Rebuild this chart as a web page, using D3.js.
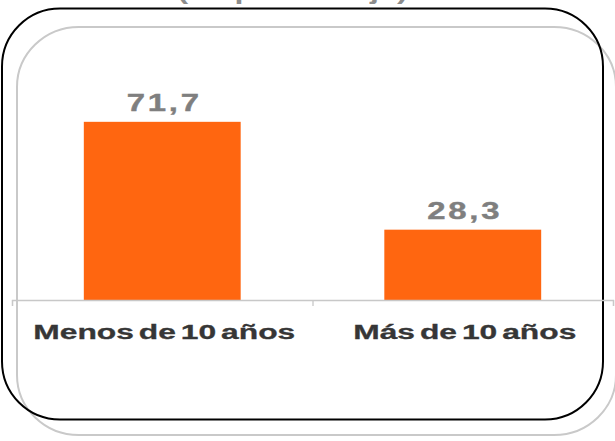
<!DOCTYPE html>
<html>
<head>
<meta charset="utf-8">
<script src="https://cdn.jsdelivr.net/npm/d3@7"></script>
<style>
  html, body { margin: 0; padding: 0; background: #fff; }
  svg { display: block; }
  text { font-family: "Liberation Sans", Arial, sans-serif; font-weight: bold; }
</style>
</head>
<body>
<script>
const categories = ["Menos de 10 años", "Más de 10 años"];
const values = [71.7, 28.3];
const valueLabels = ["71,7", "28,3"];
const titleText = "(en porcentaje)";

const W = 615, H = 441;
const svg = d3.select("body").append("svg").attr("width", W).attr("height", H);
svg.append("rect").attr("width", W).attr("height", H).attr("fill", "#fff");

// title, mostly cut off at the top edge as in the original
svg.append("text")
  .attr("transform", "translate(292.5,-1) scale(1.46,1)")
  .attr("text-anchor", "middle")
  .attr("font-size", 22)
  .attr("fill", "#8c8c8c")
  .text(titleText);

// frames
svg.append("rect")
  .attr("x", 17).attr("y", 27).attr("width", 599).attr("height", 408)
  .attr("rx", 62).attr("ry", 60)
  .attr("fill", "none").attr("stroke", "#c9c9c9").attr("stroke-width", 2);
svg.append("rect")
  .attr("x", 2).attr("y", 8.5).attr("width", 601).attr("height", 411)
  .attr("rx", 58).attr("ry", 58)
  .attr("fill", "none").attr("stroke", "#000").attr("stroke-width", 2);

const x0 = 12, x1 = 613, baseY = 300;
const p = 0.478;
const x = d3.scaleBand().domain(categories).range([x0, x1])
  .paddingInner(p).paddingOuter(p / 2);
const y = d3.scaleLinear().domain([0, 80]).range([baseY, baseY - 80 * 2.485]);

// bars
svg.selectAll("rect.bar").data(values).enter().append("rect")
  .attr("class", "bar")
  .attr("x", (d, i) => x(categories[i]))
  .attr("width", x.bandwidth())
  .attr("y", d => y(d))
  .attr("height", d => y(0) - y(d))
  .attr("fill", "#FF6610");

// axis with boundary ticks
const xEdge = d3.scaleLinear().domain([0, categories.length]).range([x0, x1]);
const axis = svg.append("g").attr("transform", `translate(0,${baseY})`)
  .call(d3.axisBottom(xEdge).ticks(categories.length).tickSize(6).tickSizeOuter(6).tickFormat(""));
axis.selectAll("path, line").attr("stroke", "#c8c8c8").attr("stroke-width", 1.3);

// value labels
svg.selectAll("text.val").data(values).enter().append("text")
  .attr("class", "val")
  .attr("transform", (d, i) => `translate(${x(categories[i]) + x.bandwidth() / 2 + 2},${y(d) - 10.5}) scale(1.4,1)`)
  .attr("text-anchor", "middle")
  .attr("font-size", 23.5)
  .attr("letter-spacing", "2px")
  .attr("stroke", "#7f7f7f").attr("stroke-width", 0.4)
  .attr("fill", "#7f7f7f")
  .text((d, i) => valueLabels[i]);

// category labels
svg.selectAll("text.cat").data(categories).enter().append("text")
  .attr("class", "cat")
  .attr("transform", d => `translate(${x(d) + x.bandwidth() / 2 + 2},338.5) scale(1.55,1)`)
  .attr("text-anchor", "middle")
  .attr("font-size", 20.5)
  .attr("word-spacing", "-2.5px")
  .attr("stroke", "#363636").attr("stroke-width", 0.3)
  .attr("fill", "#363636")
  .text(d => d);
</script>
</body>
</html>
